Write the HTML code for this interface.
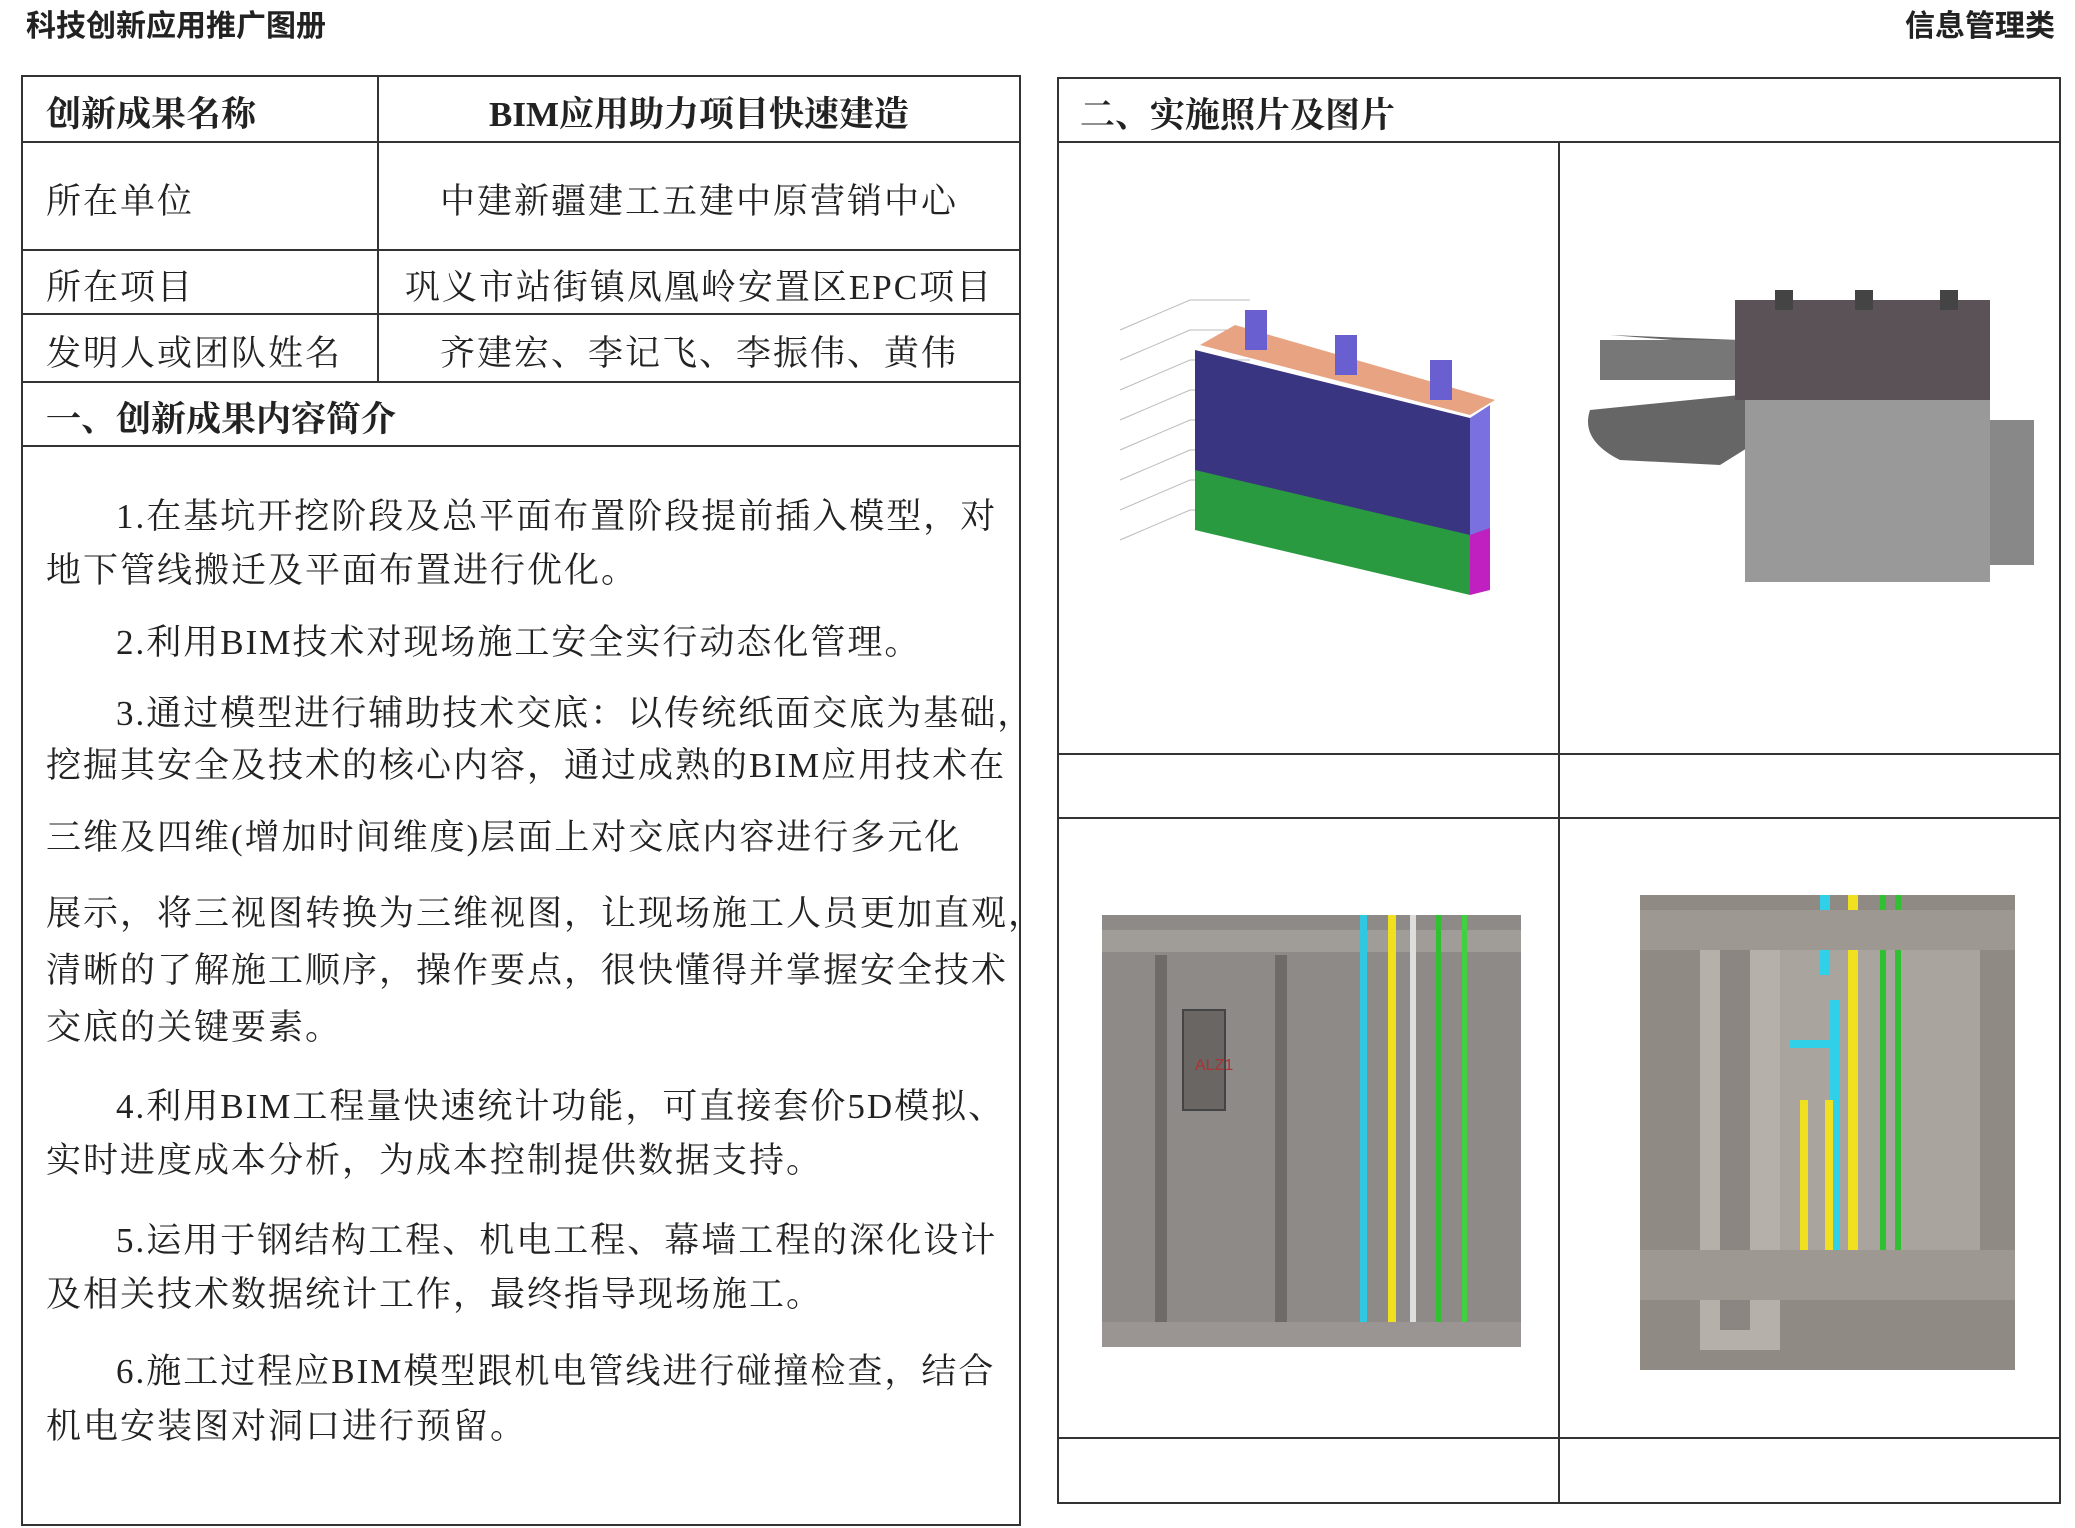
<!DOCTYPE html>
<html><head><meta charset="utf-8"><style>
html,body{margin:0;padding:0;background:#fff;}
body{width:2075px;height:1528px;position:relative;overflow:hidden;font-family:"Liberation Serif","Noto Serif CJK SC",serif;color:#222;}
.t{position:absolute;white-space:nowrap;line-height:1;}
.h{font-family:"Liberation Sans","Noto Sans CJK SC",sans-serif;font-weight:bold;font-size:30px;}
.s{font-size:35px;letter-spacing:2px;}
.b{font-weight:bold;letter-spacing:0;}
.c{transform:translateX(-50%);}
</style></head><body>
<div class="t h" style="left:26px;top:12px;">科技创新应用推广图册</div>
<div class="t h" style="right:20px;top:12px;">信息管理类</div>

<svg width="2075" height="1528" style="position:absolute;left:0;top:0">
<g stroke="#333" stroke-width="2" fill="none">
<rect x="22" y="76" width="998" height="1449"/>
<line x1="378" y1="76" x2="378" y2="382"/>
<line x1="22" y1="142" x2="1020" y2="142"/>
<line x1="22" y1="250" x2="1020" y2="250"/>
<line x1="22" y1="314" x2="1020" y2="314"/>
<line x1="22" y1="382" x2="1020" y2="382"/>
<line x1="22" y1="446" x2="1020" y2="446"/>
<rect x="1058" y="78" width="1002" height="1425"/>
<line x1="1058" y1="142" x2="2060" y2="142"/>
<line x1="1559" y1="142" x2="1559" y2="1503"/>
<line x1="1058" y1="754" x2="2060" y2="754"/>
<line x1="1058" y1="818" x2="2060" y2="818"/>
<line x1="1058" y1="1438" x2="2060" y2="1438"/>
</g>
<g>
<g stroke="#bbb" stroke-width="1" fill="none">
<path d="M1120 330 L1190 300 L1250 300"/><path d="M1120 360 L1190 330 L1250 330"/>
<path d="M1120 390 L1190 360 L1250 360"/><path d="M1120 420 L1190 390 L1250 390"/>
<path d="M1120 450 L1190 420 L1250 420"/><path d="M1120 480 L1190 450 L1250 450"/>
<path d="M1120 510 L1190 480 L1250 480"/><path d="M1120 540 L1190 510 L1250 510"/>
</g>
<polygon points="1200,345 1235,325 1495,400 1470,415" fill="#e8a482"/>
<polygon points="1195,350 1470,418 1470,540 1195,475" fill="#3a3580"/>
<polygon points="1470,418 1490,405 1490,530 1470,540" fill="#7a70e0"/>
<polygon points="1195,470 1470,535 1470,595 1195,530" fill="#2a9a40"/>
<polygon points="1470,535 1490,528 1490,590 1470,595" fill="#c020c0"/>
<rect x="1245" y="310" width="22" height="40" fill="#6a5fd0"/>
<rect x="1335" y="335" width="22" height="40" fill="#6a5fd0"/>
<rect x="1430" y="360" width="22" height="40" fill="#6a5fd0"/>
</g>
<g>
<path d="M1610 335 L1740 340 L1740 395 L1590 410 Q1580 440 1620 460 L1720 465 L1760 440 L1760 370 L1735 345 Z" fill="#666"/>
<rect x="1600" y="340" width="140" height="40" fill="#777"/>
<rect x="1735" y="300" width="255" height="100" fill="#5a5256"/>
<rect x="1745" y="400" width="245" height="182" fill="#999"/>
<rect x="1990" y="420" width="44" height="145" fill="#888"/>
<rect x="1775" y="290" width="18" height="20" fill="#444"/><rect x="1855" y="290" width="18" height="20" fill="#444"/><rect x="1940" y="290" width="18" height="20" fill="#444"/>
</g>
<g>
<rect x="1102" y="915" width="419" height="432" fill="#8e8a87"/>
<rect x="1102" y="930" width="419" height="22" fill="#a09c98"/>
<rect x="1155" y="955" width="12" height="370" fill="#6f6b69"/>
<rect x="1275" y="955" width="12" height="370" fill="#6f6b69"/>
<rect x="1183" y="1010" width="42" height="100" fill="#6a6663" stroke="#444" stroke-width="2"/>
<text x="1195" y="1070" font-family="Liberation Sans" font-size="16" fill="#a33">ALZ1</text>
<rect x="1360" y="915" width="7" height="410" fill="#30c8e0"/>
<rect x="1388" y="915" width="8" height="410" fill="#f0e020"/>
<rect x="1410" y="915" width="6" height="410" fill="#ddd"/>
<rect x="1436" y="915" width="5" height="410" fill="#30c030"/>
<rect x="1462" y="915" width="5" height="410" fill="#40d040"/>
<rect x="1102" y="1322" width="419" height="25" fill="#9a9592"/>
</g>
<g>
<rect x="1640" y="895" width="375" height="475" fill="#8f8a84"/>
<rect x="1700" y="930" width="80" height="420" fill="#b5b0aa"/>
<rect x="1720" y="950" width="30" height="380" fill="#8c8682"/>
<rect x="1780" y="940" width="200" height="360" fill="#a9a49e"/>
<rect x="1830" y="1000" width="10" height="290" fill="#30d0e8"/>
<rect x="1848" y="895" width="10" height="395" fill="#f0e020"/>
<rect x="1820" y="895" width="10" height="80" fill="#30d0e8"/>
<rect x="1800" y="1100" width="8" height="190" fill="#f0e020"/>
<rect x="1825" y="1100" width="8" height="190" fill="#f0e020"/>
<rect x="1880" y="895" width="6" height="395" fill="#30c030"/>
<rect x="1895" y="895" width="6" height="395" fill="#30c030"/>
<rect x="1790" y="1040" width="40" height="8" fill="#30d0e8"/>
<rect x="1640" y="1250" width="375" height="50" fill="#9e9893"/>
<rect x="1640" y="910" width="375" height="40" fill="#9e9893"/>
</g>
</svg>

<div class="t s b" style="left:46px;top:97px;">创新成果名称</div>
<div class="t s b c" style="left:699px;top:97px;">BIM应用助力项目快速建造</div>
<div class="t s" style="left:46px;top:184px;">所在单位</div>
<div class="t s c" style="left:699px;top:184px;">中建新疆建工五建中原营销中心</div>
<div class="t s" style="left:46px;top:270px;">所在项目</div>
<div class="t s c" style="left:699px;top:270px;">巩义市站街镇凤凰岭安置区EPC项目</div>
<div class="t s" style="left:46px;top:336px;">发明人或团队姓名</div>
<div class="t s c" style="left:699px;top:336px;">齐建宏、李记飞、李振伟、黄伟</div>
<div class="t s b" style="left:46px;top:402px;">一、创新成果内容简介</div>
<div class="t s b" style="left:1080px;top:98px;">二、实施照片及图片</div>

<div class="t s" style="left:116px;top:499px;">1.在基坑开挖阶段及总平面布置阶段提前插入模型，对</div>
<div class="t s" style="left:46px;top:553px;">地下管线搬迁及平面布置进行优化。</div>
<div class="t s" style="left:116px;top:625px;">2.利用BIM技术对现场施工安全实行动态化管理。</div>
<div class="t s" style="left:116px;top:696px;">3.通过模型进行辅助技术交底：以传统纸面交底为基础，</div>
<div class="t s" style="left:46px;top:748px;">挖掘其安全及技术的核心内容，通过成熟的BIM应用技术在</div>
<div class="t s" style="left:46px;top:820px;">三维及四维(增加时间维度)层面上对交底内容进行多元化</div>
<div class="t s" style="left:46px;top:896px;">展示，将三视图转换为三维视图，让现场施工人员更加直观，</div>
<div class="t s" style="left:46px;top:953px;">清晰的了解施工顺序，操作要点，很快懂得并掌握安全技术</div>
<div class="t s" style="left:46px;top:1010px;">交底的关键要素。</div>
<div class="t s" style="left:116px;top:1089px;">4.利用BIM工程量快速统计功能，可直接套价5D模拟、</div>
<div class="t s" style="left:46px;top:1143px;">实时进度成本分析，为成本控制提供数据支持。</div>
<div class="t s" style="left:116px;top:1223px;">5.运用于钢结构工程、机电工程、幕墙工程的深化设计</div>
<div class="t s" style="left:46px;top:1277px;">及相关技术数据统计工作，最终指导现场施工。</div>
<div class="t s" style="left:116px;top:1354px;">6.施工过程应BIM模型跟机电管线进行碰撞检查，结合</div>
<div class="t s" style="left:46px;top:1409px;">机电安装图对洞口进行预留。</div>
</body></html>
